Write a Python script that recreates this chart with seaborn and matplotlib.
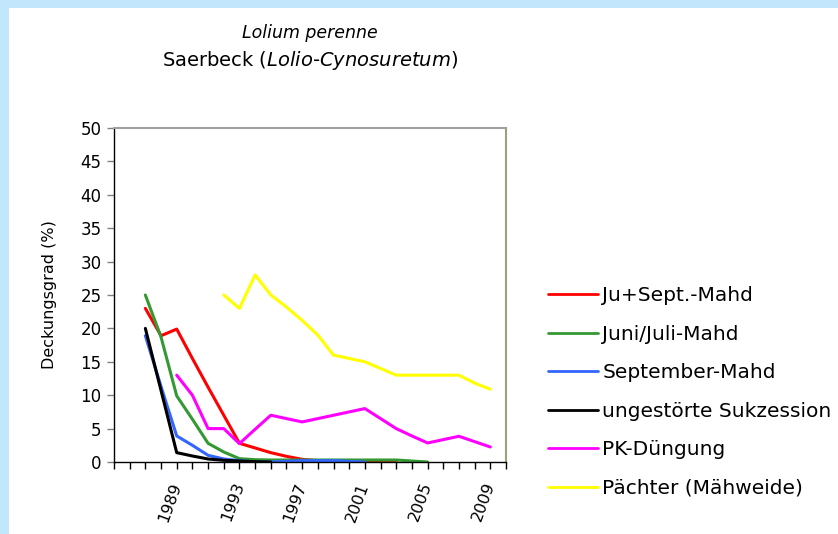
# lolium_saerbeck.py
# Line chart: cover of Lolium perenne per treatment, Saerbeck plots

import numpy as np
import pandas as pd
import matplotlib.pyplot as plt
import seaborn as sns
from matplotlib.patches import Rectangle

nan = np.nan

# years on the category axis (1985 .. 2010)
years = list(range(1985, 2011))
tick_years = [1989, 1993, 1997, 2001, 2005, 2009]

# cover values (%), one value per year
ju_sept = [nan, nan, 23.0, 18.9, 19.9, 15.5, 11.2, 7.0, 2.8, 2.1, 1.4, 0.85, 0.4,
           0.2, 0.1, 0.1, 0.1, 0.1, 0.1, nan, nan, nan, nan, nan, nan, nan]
juni_juli = [nan, nan, 25.0, 18.7, 9.9, 6.4, 2.8, 1.5, 0.5, 0.35, 0.3, 0.3, 0.3,
             0.3, 0.3, 0.3, 0.3, 0.3, 0.3, 0.15, 0.0, nan, nan, nan, nan, nan]
september = [nan, nan, 18.9, 11.3, 3.9, 2.5, 1.0, 0.45, 0.2, 0.0, 0.0, 0.1, 0.2,
             0.2, 0.2, 0.1, 0.0, nan, nan, nan, nan, nan, nan, nan, nan, nan]
sukzession = [nan, nan, 20.0, 10.7, 1.4, 0.9, 0.45, 0.25, 0.15, 0.05, 0.0, nan, nan,
              nan, nan, nan, nan, nan, nan, nan, nan, nan, nan, nan, nan, nan]
pk_duengung = [nan, nan, nan, nan, 13.0, 10.0, 5.0, 5.0, 2.75, 4.9, 7.0, 6.5, 6.0,
               6.5, 7.0, 7.5, 8.0, 6.5, 5.0, 3.9, 2.85, 3.35, 3.85, 3.05, 2.25, nan]
paechter = [nan, nan, nan, nan, nan, nan, nan, 25.0, 23.0, 28.0, 25.0, 23.2, 21.2,
            19.0, 16.0, 15.5, 15.0, 14.0, 13.0, 13.0, 13.0, 13.0, 13.0, 11.8, 10.9, nan]

series_names = ["Ju+Sept.-Mahd", "Juni/Juli-Mahd", "September-Mahd",
                "ungestörte Sukzession", "PK-Düngung", "Pächter (Mähweide)"]
series_values = [ju_sept, juni_juli, september, sukzession, pk_duengung, paechter]
series_colors = ["#ff0000", "#339933", "#3366ff", "#000000", "#ff00ff", "#ffff00"]

# long table for seaborn
frames = []
for name, vals in zip(series_names, series_values):
    frames.append(pd.DataFrame({"Jahr": years, "Deckung": vals, "Variante": name}))
df = pd.concat(frames, ignore_index=True).dropna()

sns.set_style("white")
plt.rcParams["font.family"] = ["DejaVu Sans"]
plt.rcParams["mathtext.fontset"] = "dejavusans"
# plain black text like the original
for key in ["text.color", "axes.labelcolor", "xtick.color", "ytick.color"]:
    plt.rcParams[key] = "black"

fig = plt.figure(figsize=(8.38, 5.34), dpi=100, facecolor="#c2e6fb")
# white card inside the light blue frame (behind the axes)
fig.patches.append(Rectangle((9 / 838, 0), 1, 1 - 8 / 534, transform=fig.transFigure,
                             facecolor="white", edgecolor="none", zorder=-5))

ax = fig.add_axes([114 / 838, 72 / 534, 392 / 838, 334 / 534])
ax.set_facecolor("white")

sns.lineplot(data=df, x="Jahr", y="Deckung", hue="Variante",
             hue_order=series_names, palette=dict(zip(series_names, series_colors)),
             linewidth=2.2, ax=ax, legend=True)

# axes, ticks
ax.set_xlim(years[0], years[-1])
ax.set_ylim(0, 50)
ax.set_yticks(range(0, 51, 5))
ax.set_xticks(years)
ax.set_xticklabels([str(y) if y in tick_years else "" for y in years],
                   rotation=70, ha="right", va="center", rotation_mode="anchor",
                   fontsize=11.5)
ax.tick_params(axis="y", labelsize=12, length=5, width=1, direction="out",
               left=True, color="#808080", pad=4)
ax.tick_params(axis="x", length=5, width=1, direction="out", bottom=True,
               color="#000000", pad=10)
ax.set_xlabel("")
ax.set_ylabel("Deckungsgrad (%)", fontsize=11.5, labelpad=17)

for side in ["left", "bottom"]:
    ax.spines[side].set_color("black")
    ax.spines[side].set_linewidth(1.0)
ax.spines["top"].set_color("#a0a0a0")
ax.spines["top"].set_linewidth(1.5)
ax.spines["right"].set_color("#a0a080")
ax.spines["right"].set_linewidth(1.5)

# legend outside on the right
handles, labels = ax.get_legend_handles_labels()
ax.legend(handles, labels, loc="center left", bbox_to_anchor=(548 / 838, 0.266),
          bbox_transform=fig.transFigure, frameon=False, fontsize=14.5,
          handlelength=2.5, handletextpad=0.2, labelspacing=0.97,
          borderpad=0, borderaxespad=0)
for line in ax.get_legend().get_lines():
    line.set_linewidth(2.0)

# two line title, species names in italics
fig.text(310 / 838, 1 - 33 / 534, "Lolium perenne", style="italic",
         fontsize=12.5, ha="center", va="center")
fig.text(310 / 838, 1 - 61 / 534, r"Saerbeck ($\mathit{Lolio}$-$\mathit{Cynosuretum}$)",
         fontsize=14, ha="center", va="center")

fig.savefig("out.png", dpi=100, facecolor=fig.get_facecolor())
